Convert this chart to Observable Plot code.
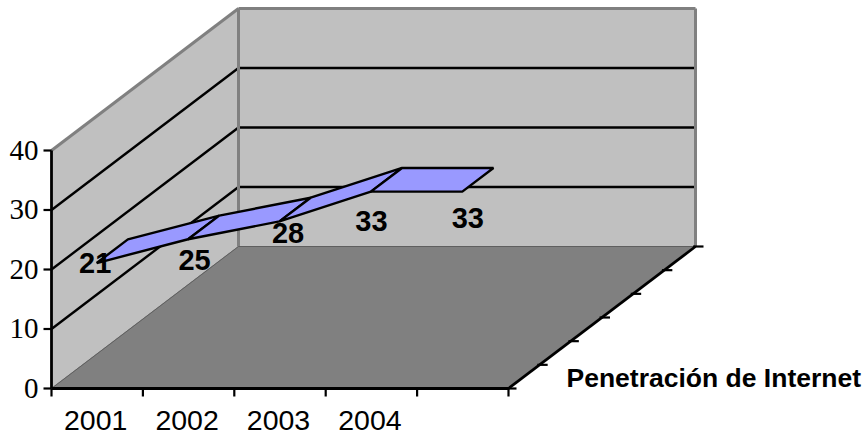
<!DOCTYPE html>
<html>
<head>
<meta charset="utf-8">
<style>html,body{margin:0;padding:0;background:#fff}svg{display:block}</style>
<script src="https://cdn.jsdelivr.net/npm/d3@7"></script>
<script src="https://cdn.jsdelivr.net/npm/@observablehq/plot@0.6"></script>
</head>
<body>
<script>
const years = ["2001", "2002", "2003", "2004"];
const values = [21, 25, 28, 33, 33];
const valueTicks = [0, 10, 20, 30, 40];
const gridValues = [10, 20, 30];
const categoryCount = 5;
const depthSteps = [0, 1, 2, 3, 4, 5, 6];
const seriesName = "Penetración de Internet";
// label nudges in px, one per data label
const labelDx = [-2, 6, 8, 0, 5];
const labelDy = [0, 21, 12, 30, 27];

// oblique projection: category / value / depth -> plane units
const W = 864, H = 436;
const pxPerCat = 91.4, pxPerVal = 5.95;
const x0 = 51, y0 = 388;
const shiftX = 187 / pxPerCat, shiftY = 142 / pxPerVal;
const maxV = 40;
const px = (c, d) => c + d * shiftX;
const py = (v, d) => v + d * shiftY;
const seg = (c1, v1, d1, c2, v2, d2) => ({x1: px(c1, d1), y1: py(v1, d1), x2: px(c2, d2), y2: py(v2, d2)});

const wallFill = "#C0C0C0", floorFill = "#808080", edge = "#808080", ribbon = "#9999FF";

const leftWall = [seg(0, 0, 0, 0, maxV, 0), seg(0, 0, 1, 0, maxV, 1)];
const backWall = [seg(0, 0, 1, 0, maxV, 1), seg(categoryCount, 0, 1, categoryCount, maxV, 1)];
const floor = [seg(0, 0, 0, 0, 0, 1), seg(categoryCount, 0, 0, categoryCount, 0, 1)];

const ribbonDepth = 1 / 6;
const ribbonRows = [];
values.slice(0, -1).forEach((v, i) => {
  ribbonRows.push({seg: i, ...seg(i + 0.5, v, 0, i + 0.5, v, ribbonDepth)});
  ribbonRows.push({seg: i, ...seg(i + 1.5, values[i + 1], 0, i + 1.5, values[i + 1], ribbonDepth)});
});

const tickCat = 8 / pxPerCat, tickVal = 8 / pxPerVal;
const linkOpts = (stroke, strokeWidth) => ({x1: "x1", y1: "y1", x2: "x2", y2: "y2", stroke, strokeWidth});

const grid = gridValues.flatMap(v => [seg(0, v, 0, 0, v, 1), seg(0, v, 1, categoryCount, v, 1)]);
const greyEdges = [
  seg(0, maxV, 0, 0, maxV, 1),
  seg(0, maxV, 1, categoryCount, maxV, 1),
  seg(0, 0, 1, 0, maxV, 1),
  seg(categoryCount, 0, 1, categoryCount, maxV, 1)
];
const floorEdges = [seg(0, 0, 0, 0, 0, 1), seg(0, 0, 1, categoryCount, 0, 1)];
const axes = [
  seg(0, 0, 0, 0, maxV, 0),
  seg(0, 0, 0, categoryCount, 0, 0),
  seg(categoryCount, 0, 0, categoryCount, 0, 1)
];
const yTicks = valueTicks.map(v => ({x1: -tickCat, y1: v, x2: 0, y2: v}));
const xTicks = d3.range(categoryCount + 1).map(c => ({x1: c, y1: 0, x2: c, y2: -tickVal}));
const dTicks = depthSteps.map(k => ({
  x1: px(categoryCount, k / 6) - tickCat * 0.3, y1: py(0, k / 6),
  x2: px(categoryCount, k / 6) + tickCat, y2: py(0, k / 6)
}));

const chart = Plot.plot({
  width: W, height: H,
  marginTop: 0, marginRight: 0, marginBottom: 0, marginLeft: 0,
  style: {background: "#fff"},
  x: {axis: null, domain: [-x0 / pxPerCat, (W - x0) / pxPerCat], range: [0, W]},
  y: {axis: null, domain: [(y0 - H) / pxPerVal, y0 / pxPerVal], range: [H, 0]},
  marks: [
    Plot.area(leftWall, {x1: "x1", y1: "y1", x2: "x2", y2: "y2", fill: wallFill}),
    Plot.area(backWall, {x1: "x1", y1: "y1", x2: "x2", y2: "y2", fill: wallFill}),
    Plot.area(floor, {x1: "x1", y1: "y1", x2: "x2", y2: "y2", fill: floorFill}),
    Plot.link(grid, linkOpts("#000", 2.4)),
    Plot.link(greyEdges, linkOpts(edge, 3)),
    Plot.link(floorEdges, linkOpts("#5f5f5f", 1)),
    Plot.area(ribbonRows, {x1: "x1", y1: "y1", x2: "x2", y2: "y2", z: "seg", fill: ribbon, stroke: "#000", strokeWidth: 2.4, strokeLinejoin: "miter"}),
    Plot.link(axes, linkOpts("#000", 2.8)),
    Plot.link(yTicks, linkOpts("#000", 2.2)),
    Plot.link(xTicks, linkOpts("#000", 2.2)),
    Plot.link(dTicks, linkOpts("#000", 2.2)),
    Plot.text(valueTicks, {
      x: () => -13 / pxPerCat, y: d => d, text: d => String(d), textAnchor: "end",
      fontFamily: "Liberation Serif", fontSize: 29, fill: "#000", dy: 0
    }),
    Plot.text(years, {
      x: (d, i) => i + 0.5, y: () => -5.2, text: d => d, textAnchor: "middle",
      fontFamily: "Liberation Sans", fontSize: 28.5, fill: "#000", dx: -1.5, dy: 1
    }),
    ...values.map((v, i) => Plot.text([v], {
      x: () => i + 0.5, y: d => d, text: d => String(d), textAnchor: "middle",
      fontFamily: "Liberation Sans", fontWeight: "bold", fontSize: 29, fill: "#000",
      dx: labelDx[i], dy: labelDy[i]
    })),
    Plot.text([seriesName], {
      x: () => (566 - x0) / pxPerCat, y: () => 1.75, text: d => d, textAnchor: "start",
      fontFamily: "Liberation Sans", fontWeight: "bold", fontSize: 26.5, fill: "#000"
    })
  ]
});
document.body.appendChild(chart);
</script>
</body>
</html>
